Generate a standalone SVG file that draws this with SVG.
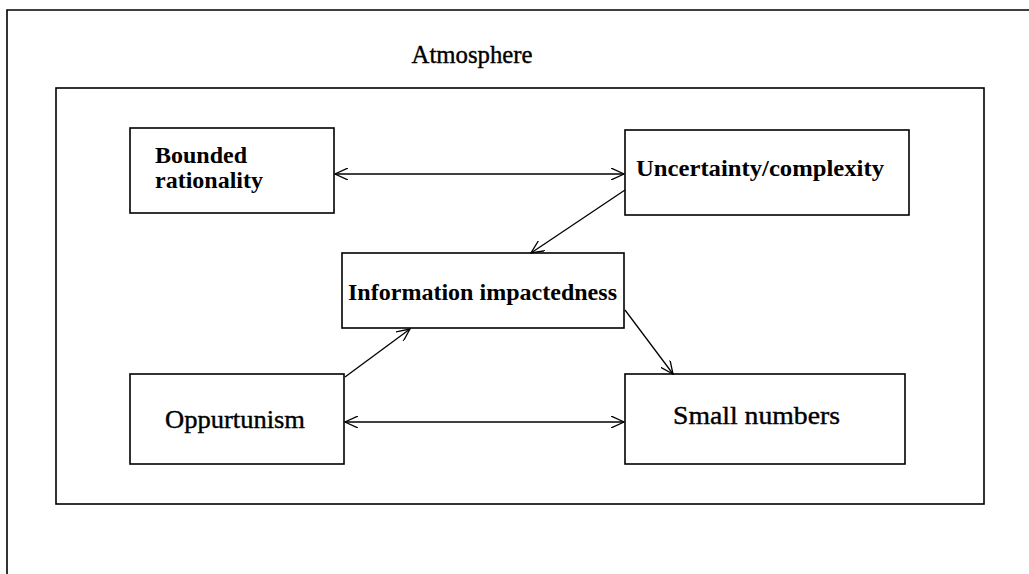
<svg xmlns="http://www.w3.org/2000/svg" width="1029" height="574" viewBox="0 0 1029 574">
<style>
.box{fill:none;stroke:#000;stroke-width:1.6}
.lbl{font-family:"Liberation Serif","Times New Roman",serif;font-size:24px;font-weight:bold;fill:#000}
.reg{font-family:"Liberation Serif","Times New Roman",serif;font-size:26px;fill:#000;stroke:#000;stroke-width:0.4}
.con{fill:none;stroke:#000;stroke-width:1.3}
</style>
<defs>
<marker id="arr" viewBox="0 0 14 12" refX="13" refY="6" markerWidth="14" markerHeight="12" markerUnits="userSpaceOnUse" orient="auto-start-reverse">
<path d="M0,0 L13,6 L0,12" fill="none" stroke="#000" stroke-width="1.3"/>
</marker>
</defs>
<rect width="1029" height="574" fill="#fff"/>
<g id="outer">
<path class="box" d="M1029,10 H7 V574"/>
<text class="reg" x="472" y="63" text-anchor="middle" textLength="121" lengthAdjust="spacingAndGlyphs">Atmosphere</text>
</g>
<g id="atmosphere">
<rect class="box" x="56" y="88" width="928" height="416"/>
</g>
<g id="bounded">
<rect class="box" x="130" y="128" width="204" height="85"/>
<text class="lbl" x="155" y="163">Bounded</text>
<text class="lbl" x="155" y="188">rationality</text>
</g>
<g id="uncertainty">
<rect class="box" x="625" y="130" width="284" height="85"/>
<text class="lbl" x="636" y="176" textLength="248" lengthAdjust="spacingAndGlyphs">Uncertainty/complexity</text>
</g>
<g id="information">
<rect class="box" x="342" y="253" width="282" height="75"/>
<text class="lbl" x="348" y="300" textLength="269" lengthAdjust="spacingAndGlyphs">Information impactedness</text>
</g>
<g id="oppurtunism">
<rect class="box" x="130" y="374" width="214" height="90"/>
<text class="reg" x="165" y="428" textLength="140" lengthAdjust="spacingAndGlyphs">Oppurtunism</text>
</g>
<g id="small">
<rect class="box" x="625" y="374" width="280" height="90"/>
<text class="reg" x="673" y="424" textLength="167" lengthAdjust="spacingAndGlyphs">Small numbers</text>
</g>
<g id="connectors">
<line class="con" x1="335" y1="174" x2="624" y2="174" marker-start="url(#arr)" marker-end="url(#arr)"/>
<line class="con" x1="625" y1="190" x2="531" y2="253" marker-end="url(#arr)"/>
<line class="con" x1="345" y1="377" x2="410" y2="329" marker-end="url(#arr)"/>
<line class="con" x1="625" y1="310" x2="673" y2="374" marker-end="url(#arr)"/>
<line class="con" x1="345" y1="422" x2="624" y2="422" marker-start="url(#arr)" marker-end="url(#arr)"/>
</g>
</svg>
